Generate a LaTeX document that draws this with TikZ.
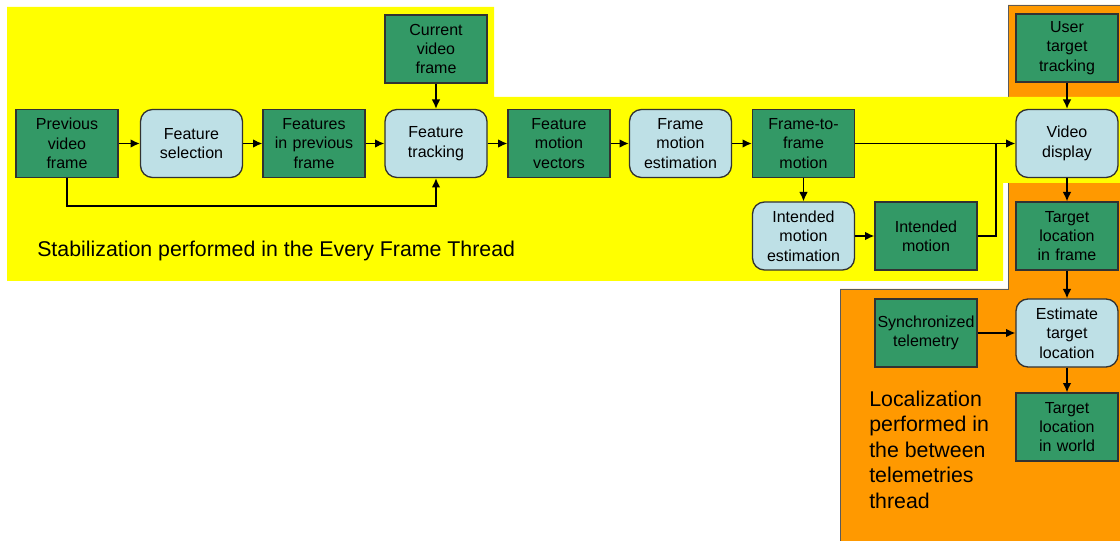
\documentclass[tikz,border=0pt]{standalone}
\usepackage{fontspec}
\setmainfont{Liberation Sans}
\usetikzlibrary{arrows.meta}
\definecolor{gfill}{RGB}{51,153,102}
\definecolor{bfill}{RGB}{190,224,230}
\definecolor{ylw}{RGB}{255,255,0}
\definecolor{orng}{RGB}{255,153,0}
\definecolor{edge}{RGB}{50,50,50}
\begin{document}
\begin{tikzpicture}[x=0.75pt,y=-0.75pt,
 box/.style={draw=edge, line width=1pt, minimum width=76.5pt, minimum height=51pt, inner sep=0pt, align=center, font=\fontsize{12}{14.5}\selectfont, text width=74pt},
 gbox/.style={box, fill=gfill},
 bbox/.style={box, fill=bfill, rounded corners=9pt},
 arr/.style={line width=1.1pt, -{Latex[length=7pt,width=6.5pt]}},
 ln/.style={line width=1.1pt},
 lbl/.style={font=\fontsize{16}{19}\selectfont, inner sep=0pt, align=left}]
\useasboundingbox (0,0) rectangle (1120,541);
% regions
\fill[orng] (1008,5) -- (1120,5) -- (1120,541) -- (840,541) -- (840,289) -- (1008,289) -- cycle;
\draw[edge!80, line width=0.6pt] (840,541) -- (840,289) -- (1008,289) -- (1008,5) -- (1120,5);
\fill[ylw] (7,7) -- (494,7) -- (494,97) -- (1120,97) -- (1120,183) -- (1003,183) -- (1003,281) -- (7,281) -- cycle;
% nodes
\node[gbox] (cvf) at (436,49) {Current\\video\\frame};
\node[gbox] (pvf) at (67,143.5) {Previous\\video\\frame};
\node[bbox] (fs) at (191.5,143.5) {Feature\\selection};
\node[gbox] (fpf) at (314,143.5) {Features\\in previous\\frame};
\node[bbox] (ft) at (436,143.5) {Feature\\tracking};
\node[gbox] (fmv) at (559,143.5) {Feature\\motion\\vectors};
\node[bbox] (fme) at (680.5,143.5) {Frame\\motion\\estimation};
\node[gbox] (ftf) at (803.5,143.5) {Frame-to-\\frame\\motion};
\node[bbox] (vd) at (1067,143.5) {Video\\display};
\node[gbox] (utt) at (1067,48) {User\\target\\tracking};
\node[bbox] (ime) at (803.5,236) {Intended\\motion\\estimation};
\node[gbox] (im) at (926,236) {Intended\\motion};
\node[gbox] (tlf) at (1067,236) {Target\\location\\in frame};
\node[gbox] (st) at (926,333) {Synchronized\\telemetry};
\node[bbox] (etl) at (1067,333) {Estimate\\target\\location};
\node[gbox] (tlw) at (1067,427) {Target\\location\\in world};
% labels
\node[lbl, anchor=base west] (stab) at (37,257) {Stabilization performed in the Every Frame Thread};
\node[lbl, anchor=west, font=\fontsize{16}{19.1}\selectfont] (loc) at (869,449.5) {Localization\\performed in\\the between\\telemetries\\thread};
% connectors
\coordinate (bp) at (67,206);
\coordinate (j) at (996,143.5);
\draw[arr] (pvf) -- (fs);
\draw[arr] (fs) -- (fpf);
\draw[arr] (fpf) -- (ft);
\draw[arr] (cvf) -- (ft);
\draw[arr] (pvf.south) -- (bp) -| (ft.south);
\draw[arr] (ft) -- (fmv);
\draw[arr] (fmv) -- (fme);
\draw[arr] (fme) -- (ftf);
\draw[arr] (ftf) -- (vd);
\draw[arr] (ftf) -- (ime);
\draw[arr] (ime) -- (im);
\draw[ln] (im.east) -| (j);
\draw[arr] (utt) -- (vd);
\draw[arr] (vd) -- (tlf);
\draw[arr] (tlf) -- (etl);
\draw[arr] (st) -- (etl);
\draw[arr] (etl) -- (tlw);
\end{tikzpicture}
\end{document}
